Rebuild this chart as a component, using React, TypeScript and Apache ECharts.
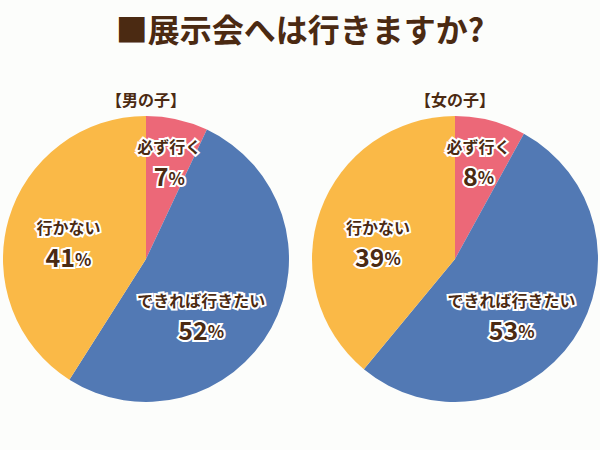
import React, { useEffect, useRef } from "react";
import * as echarts from "echarts";

const categories = ["必ず行く", "できれば行きたい", "行かない"];
const boysValues = [7, 52, 41];
const girlsValues = [8, 53, 39];
const groupNames = ["【男の子】", "【女の子】"];
const titleText = "■展示会へは行きますか?";
const sliceColors = ["#ec6878", "#5279b4", "#fab947"];

const FONT = '"Noto Sans CJK JP", "Noto Sans", sans-serif';
const BROWN = "#4b2a12";

// label nudges per slice (dx, dy) for each pie
const boysNudge = [
  [7, -21],
  [-10, 24],
  [-6, 8],
];
const girlsNudge = [
  [5, -22],
  [-5, 18],
  [-7, 12],
];

export default function App() {
  const ref = useRef<HTMLDivElement>(null);
  useEffect(() => {
    document.body.style.margin = "0";
    const chart = echarts.init(ref.current!, null, { renderer: "svg" });
    const makeSeries = (values: number[], center: number[], nudge: number[][]) => ({
      type: "pie",
      center,
      radius: 143,
      startAngle: 90,
      clockwise: true,
      silent: true,
      itemStyle: { borderWidth: 0 },
      label: {
        show: true,
        position: "inside",
        formatter: (p: any) => `{n|${p.name}}\n{v|${p.value}}{p|%}`,
        rich: {
          n: {
            fontFamily: FONT,
            fontSize: 16,
            fontWeight: "bold",
            color: BROWN,
            textBorderColor: "#ffffff",
            textBorderWidth: 4,
            lineHeight: 20,
            align: "center",
          },
          v: {
            fontFamily: FONT,
            fontSize: 25,
            fontWeight: "bold",
            color: BROWN,
            textBorderColor: "#ffffff",
            textBorderWidth: 4,
            lineHeight: 38,
            verticalAlign: "middle",
          },
          p: {
            fontFamily: FONT,
            fontSize: 17,
            fontWeight: "bold",
            color: BROWN,
            textBorderColor: "#ffffff",
            textBorderWidth: 4,
            lineHeight: 38,
            verticalAlign: "middle",
            padding: [4, 0, 0, 0],
          },
        },
      },
      labelLine: { show: false },
      labelLayout: (params: any) => ({
        dx: nudge[params.dataIndex][0],
        dy: nudge[params.dataIndex][1],
      }),
      data: categories.map((c, i) => ({
        name: c,
        value: values[i],
        itemStyle: { color: sliceColors[i] },
      })),
    });
    chart.setOption({
      animation: false,
      backgroundColor: "#fcfdfb",
      title: [
        {
          text: titleText,
          left: "center",
          top: 12,
          padding: 0,
          textStyle: { fontFamily: FONT, fontSize: 32, fontWeight: "bold", color: BROWN },
        },
        {
          text: groupNames[0],
          left: 146,
          textAlign: "center",
          top: 91,
          padding: 0,
          textStyle: { fontFamily: FONT, fontSize: 16, fontWeight: "bold", color: BROWN },
        },
        {
          text: groupNames[1],
          left: 455,
          textAlign: "center",
          top: 91,
          padding: 0,
          textStyle: { fontFamily: FONT, fontSize: 16, fontWeight: "bold", color: BROWN },
        },
      ],
      series: [
        makeSeries(boysValues, [146, 259], boysNudge),
        makeSeries(girlsValues, [455, 259], girlsNudge),
      ],
    });
    return () => chart.dispose();
  }, []);
  return <div ref={ref} style={{ width: 600, height: 450 }} />;
}
